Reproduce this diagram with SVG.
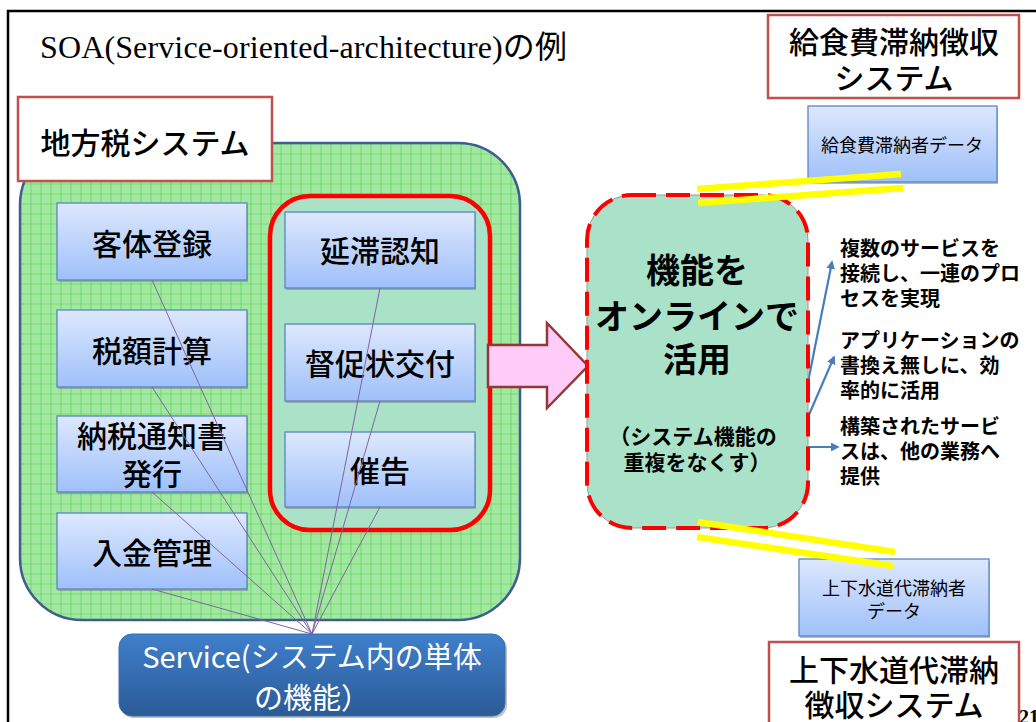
<svg xmlns="http://www.w3.org/2000/svg" width="1036" height="722" viewBox="0 0 1036 722">
<style>
.jp{font-family:"Noto Sans CJK JP","Noto Sans",sans-serif;fill:#000}
.lbl{font-size:30px;text-anchor:middle;font-weight:500}
.bx{fill:url(#bg);stroke:#5a86c0;stroke-width:1.3}
.sh{fill:#8a8a8a;opacity:.6}
.sysbox{fill:#fff;stroke:#c0504d;stroke-width:2.5}
.rt{font-size:20px;font-weight:bold}
.pl{stroke:#8064a2;stroke-width:1;fill:none}
.yl{stroke:#ffff00;stroke-width:6.5;fill:none}
.ba{stroke:#4a7ebb;stroke-width:2.2;fill:none;marker-end:url(#ah)}
</style>
<defs>
<linearGradient id="bg" x1="0" y1="0" x2="0" y2="1">
<stop offset="0" stop-color="#dde8fd"/>
<stop offset="1" stop-color="#9fc0fa"/>
</linearGradient>
<linearGradient id="sg" x1="0" y1="0" x2="0" y2="1">
<stop offset="0" stop-color="#3f7fcb"/>
<stop offset="1" stop-color="#2b5b96"/>
</linearGradient>
<pattern id="grid" patternUnits="userSpaceOnUse" x="0.5" y="3.5" width="10" height="10">
<rect width="10" height="10" fill="#a2e8a0"/>
<path d="M0 0H10M0 0V10" stroke="#4ccf4c" stroke-width="1.2" fill="none"/>
</pattern>
<marker id="ah" viewBox="0 0 10 10" refX="8" refY="5" markerWidth="4" markerHeight="4" orient="auto" markerUnits="strokeWidth">
<path d="M0 0L10 5L0 10z" fill="#4a7ebb"/>
</marker>
</defs>
<rect width="1036" height="722" fill="#fff"/>
<rect x="8" y="11" width="1040" height="730" fill="none" stroke="#000" stroke-width="2.5"/>
<text x="40" y="58" font-family="'Liberation Serif','Noto Sans CJK JP',serif" font-size="32" textLength="527">SOA(Service-oriented-architecture)の例</text>

<g id="local-tax-system">
<rect x="20" y="143" width="500" height="477" rx="62" fill="url(#grid)" stroke="#3e5e8e" stroke-width="2.5"/>
<rect x="18" y="97" width="254" height="84" class="sysbox"/>
<text x="145" y="154" class="jp lbl">地方税システム</text>
</g>

<g id="red-group">
<rect x="270" y="196" width="220" height="334" rx="40" fill="#a9e2c6" stroke="#ff0000" stroke-width="4.5"/>
</g>

<g id="n-kyakutai">
<rect x="58" y="205" width="190" height="77" class="sh"/>
<rect x="57" y="203" width="190" height="77" class="bx"/>
<text x="152" y="255" class="jp lbl">客体登録</text>
</g>
<g id="n-zeigaku">
<rect x="58" y="312" width="190" height="77" class="sh"/>
<rect x="57" y="310" width="190" height="77" class="bx"/>
<text x="152" y="362" class="jp lbl">税額計算</text>
</g>
<g id="n-nouzei">
<rect x="58" y="418" width="190" height="76" class="sh"/>
<rect x="57" y="416" width="190" height="76" class="bx"/>
<text x="152" y="447" class="jp lbl">納税通知書</text>
<text x="152" y="485" class="jp lbl">発行</text>
</g>
<g id="n-nyukin">
<rect x="58" y="515" width="190" height="76" class="sh"/>
<rect x="57" y="513" width="190" height="76" class="bx"/>
<text x="152" y="564" class="jp lbl">入金管理</text>
</g>
<g id="n-entai">
<rect x="286" y="214" width="190" height="76" class="sh"/>
<rect x="285" y="212" width="190" height="76" class="bx"/>
<text x="380" y="262" class="jp lbl">延滞認知</text>
</g>
<g id="n-tokusoku">
<rect x="286" y="326" width="190" height="77" class="sh"/>
<rect x="285" y="324" width="190" height="77" class="bx"/>
<text x="380" y="375" class="jp lbl">督促状交付</text>
</g>
<g id="n-saikoku">
<rect x="286" y="434" width="190" height="75" class="sh"/>
<rect x="285" y="432" width="190" height="75" class="bx"/>
<text x="380" y="482" class="jp lbl">催告</text>
</g>

<g id="connectors">
<path class="pl" d="M152 280L312 634M152 387L312 634M152 492L312 634M152 589L312 634M380 288L312 634M380 401L312 634M380 507L312 634"/>
<path class="ba" d="M795 447L832 262"/>
<path class="ba" d="M795 447L834 357"/>
<path class="ba" d="M795 447L838 447"/>
</g>

<g id="n-service">
<rect x="121" y="636" width="386" height="82" rx="13" fill="#888" opacity=".5"/>
<rect x="119" y="634" width="386" height="82" rx="13" fill="url(#sg)" stroke="#3a6fb0" stroke-width="1"/>
<text x="312" y="668" class="jp" font-size="29" style="fill:#fff" text-anchor="middle">Service(システム内の単体</text>
<text x="312" y="709" class="jp" font-size="29" style="fill:#fff" text-anchor="middle">の機能）</text>
</g>

<g id="arrow">
<polygon points="488,345 547,345 547,323 588,366 547,408 547,387 488,387" fill="#ffccfa" stroke="#953735" stroke-width="2.5"/>
</g>

<g id="n-online">
<rect x="587" y="195" width="221" height="333" rx="45" fill="#a9e2c8" stroke="#999" stroke-width="1"/>
<rect x="587" y="195" width="221" height="333" rx="45" fill="none" stroke="#ff0000" stroke-width="4" stroke-dasharray="24 10"/>
<g class="jp" font-weight="bold" text-anchor="middle">
<text x="697" y="283" font-size="34">機能を</text>
<text x="697" y="329" font-size="34">オンラインで</text>
<text x="697" y="372" font-size="34">活用</text>
<text x="693" y="444" font-size="21">（システム機能の</text>
<text x="697" y="470" font-size="21">重複をなくす）</text>
</g>
</g>

<g id="notes" class="jp rt">
<text x="840" y="256">複数のサービスを</text>
<text x="840" y="281">接続し、一連のプロ</text>
<text x="840" y="306">セスを実現</text>
<text x="840" y="348">アプリケーションの</text>
<text x="840" y="373">書換え無しに、効</text>
<text x="840" y="398">率的に活用</text>
<text x="840" y="434">構築されたサービ</text>
<text x="840" y="459">スは、他の業務へ</text>
<text x="840" y="484">提供</text>
</g>

<g id="n-kyushoku-sys">
<rect x="768" y="15" width="251" height="83" class="sysbox"/>
<text x="894" y="53" class="jp lbl">給食費滞納徴収</text>
<text x="894" y="89" class="jp lbl">システム</text>
</g>
<g id="n-kyushoku-data">
<rect x="809" y="108" width="189" height="76" class="sh"/>
<rect x="808" y="106" width="189" height="76" class="bx"/>
<text x="902" y="152" class="jp" font-size="18" text-anchor="middle">給食費滞納者データ</text>
</g>
<g id="n-suido-data">
<rect x="800" y="561" width="190" height="77" class="sh"/>
<rect x="799" y="559" width="190" height="77" class="bx"/>
<text x="894" y="595" class="jp" font-size="18" text-anchor="middle">上下水道代滞納者</text>
<text x="894" y="618" class="jp" font-size="18" text-anchor="middle">データ</text>
</g>
<g id="n-suido-sys">
<rect x="769" y="642" width="250" height="100" class="sysbox"/>
<text x="894" y="681" class="jp lbl">上下水道代滞納</text>
<text x="894" y="716" class="jp lbl">徴収システム</text>
</g>

<g id="links">
<path class="yl" d="M697 189L901 174M698 203L903 188"/>
<path class="yl" d="M698 522L895 552M697 537L893 566"/>
</g>

<text x="1019" y="724" font-family="'Liberation Serif',serif" font-size="20" font-weight="bold">21</text>
</svg>
